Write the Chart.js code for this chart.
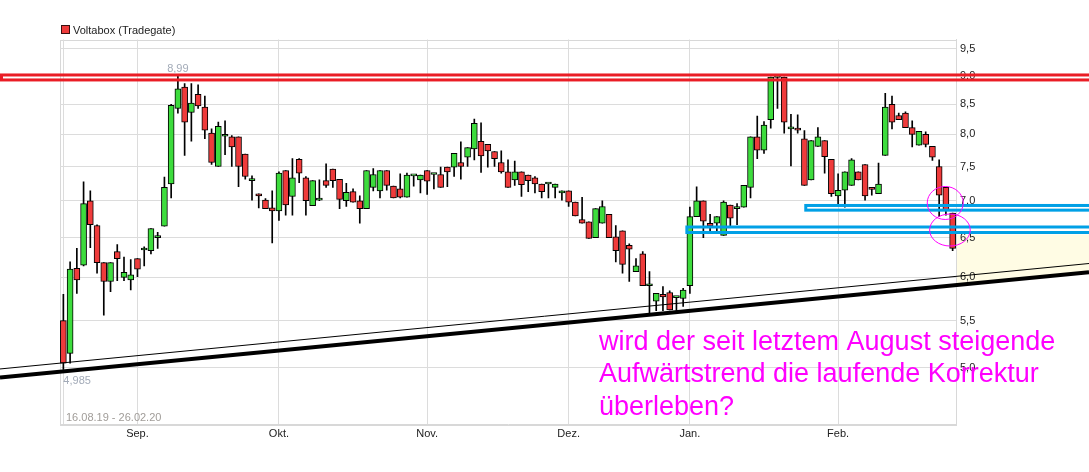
<!DOCTYPE html>
<html>
<head>
<meta charset="utf-8">
<script src="https://cdn.jsdelivr.net/npm/chart.js@4.4.1/dist/chart.umd.min.js"></script>
<style>
html,body{margin:0;padding:0;background:#fff;}
canvas{display:block;}
</style>
</head>
<body>
<canvas id="c" width="1089" height="472"></canvas>
<script>
// ---- data ----
const seriesName = 'Voltabox (Tradegate)';
const rangeLabel = '16.08.19 - 26.02.20';
const monthNames = ['Aug.','Sep.','Okt.','Nov.','Dez.','Jan.','Feb.'];
const monthKeys  = ['08.19','09.19','10.19','11.19','12.19','01.20','02.20'];
const tradingDays = [
  [16,19,20,21,22,23,26,27,28,29,30],
  [2,3,4,5,6,9,10,11,12,13,16,17,18,19,20,23,24,25,26,27,30],
  [1,2,4,7,8,9,10,11,14,15,16,17,18,21,22,23,24,25,28,29,30,31],
  [1,4,5,6,7,8,11,12,13,14,15,18,19,20,21,22,25,26,27,28,29],
  [2,3,4,5,6,9,10,11,12,13,16,17,18,19,20,23,27,30],
  [2,3,6,7,8,9,10,13,14,15,16,17,20,21,22,23,24,27,28,29,30,31],
  [3,4,5,6,7,10,11,12,13,14,17,18,19,20,21,24,25,26]
];
const openV = [5.50,5.15,6.11,6.15,7.00,6.66,6.18,5.95,6.32,6.00,5.97,6.23,6.34,6.33,6.50,6.65,7.24,8.43,8.80,8.36,
 8.67,8.45,8.02,7.50,7.97,7.96,7.96,7.69,7.29,7.10,7.01,6.90,6.86,7.44,7.06,7.61,7.33,6.93,7.01,7.29,
 7.46,7.31,7.00,7.13,7.00,6.89,7.19,7.14,7.44,7.21,7.17,7.05,7.36,7.30,7.44,7.38,7.38,7.49,7.49,7.56,
 7.64,7.77,7.89,7.84,7.73,7.56,7.42,7.30,7.42,7.37,7.33,7.24,7.24,7.19,7.11,7.14,6.98,6.74,6.71,6.50,
 6.69,6.81,6.51,6.59,6.40,6.07,6.29,5.90,5.72,5.80,5.82,5.76,5.75,5.90,6.78,7.00,6.69,6.69,6.53,6.94,
 6.89,6.91,7.19,7.96,7.75,8.24,8.97,8.98,8.09,8.09,7.93,7.30,7.81,7.90,7.61,7.07,7.15,7.22,7.42,7.53,
 7.19,7.10,7.67,8.50,8.31,8.35,8.11,7.83,8.00,7.81,7.50,7.19,6.83];
const highV = [5.80,6.19,6.36,7.27,7.14,6.67,6.18,6.18,6.41,6.25,6.22,6.23,6.38,6.62,6.57,7.34,8.50,8.99,8.86,8.86,
 8.84,8.64,8.09,8.20,8.22,7.98,7.96,7.69,7.36,7.10,7.03,7.14,7.42,7.44,7.62,7.62,7.35,7.29,7.30,7.54,
 7.46,7.31,7.25,7.17,7.07,7.44,7.47,7.44,7.44,7.21,7.39,7.40,7.36,7.37,7.44,7.38,7.49,7.49,7.70,7.88,
 7.79,8.25,8.19,7.84,7.73,7.74,7.60,7.58,7.42,7.37,7.35,7.24,7.24,7.24,7.14,7.14,6.98,7.05,6.71,6.89,
 7.00,6.81,6.66,6.59,6.42,6.23,6.32,6.07,5.81,5.89,5.84,5.76,5.87,6.91,7.20,7.00,6.81,6.78,7.00,6.94,
 6.96,7.22,7.96,8.30,8.21,8.98,8.98,8.98,8.33,8.32,8.06,7.90,8.11,7.90,7.61,7.39,7.42,7.62,7.42,7.53,
 7.19,7.55,8.69,8.64,8.35,8.37,8.22,8.05,8.04,7.81,7.60,7.19,6.83];
const lowV = [4.985,5.05,5.81,6.14,6.37,6.05,5.56,5.83,5.96,5.96,5.85,6.01,6.14,6.29,6.36,6.65,7.04,8.35,7.67,7.89,
 8.43,7.93,7.53,7.50,7.68,7.50,7.20,7.31,7.01,6.90,6.89,6.43,6.73,6.80,6.80,7.26,6.80,6.93,7.00,7.19,
 7.19,6.89,6.92,6.98,6.69,6.89,7.14,7.04,7.15,7.04,7.04,7.05,7.21,7.11,7.09,7.17,7.19,7.20,7.35,7.31,
 7.50,7.60,7.41,7.49,7.50,7.40,7.19,7.22,7.06,7.13,7.11,7.04,7.04,7.04,7.01,6.92,6.79,6.69,6.49,6.50,
 6.69,6.50,6.19,6.05,5.95,6.07,5.90,5.56,5.61,5.61,5.62,5.61,5.66,5.81,6.78,6.50,6.55,6.55,6.53,6.64,
 6.67,6.91,7.04,7.62,7.70,8.10,8.43,8.02,7.51,8.02,7.22,7.30,7.81,7.40,7.06,6.96,6.91,7.22,7.30,7.01,
 7.08,7.10,7.67,8.09,8.24,8.11,7.80,7.83,7.80,7.59,6.78,6.80,6.33];
const closeV = [5.05,6.10,5.97,6.96,6.67,6.18,5.95,6.18,6.23,6.06,6.03,6.10,6.34,6.62,6.50,7.19,8.48,8.77,8.20,8.52,
 8.47,8.07,7.56,8.13,7.97,7.80,7.50,7.35,7.29,7.07,6.89,6.86,7.40,6.94,7.33,7.40,7.00,7.29,7.01,7.22,
 7.29,7.02,7.12,6.98,6.89,7.44,7.38,7.44,7.22,7.04,7.05,7.37,7.36,7.37,7.28,7.38,7.19,7.42,7.70,7.50,
 7.79,8.18,7.66,7.74,7.62,7.42,7.19,7.42,7.23,7.29,7.24,7.13,7.24,7.24,7.14,6.98,6.79,6.69,6.49,6.89,
 6.92,6.50,6.33,6.16,6.35,6.14,5.90,5.90,5.81,5.77,5.62,5.76,5.85,6.78,7.00,6.72,6.65,6.78,6.98,6.76,
 6.89,7.22,7.96,7.75,8.15,8.98,8.97,8.20,8.09,8.07,7.22,7.90,7.96,7.65,7.10,7.15,7.42,7.60,7.30,7.07,
 7.16,7.24,8.45,8.20,8.24,8.11,8.00,8.05,7.84,7.64,7.08,6.87,6.36];
const yTicks = [5.0,5.5,6.0,6.5,7.0,7.5,8.0,8.5,9.0,9.5];
const yRange = [4.4627, 9.683];
// annotations (category index, price)
const redZone = [8.926, 9.016];
const blueZones = [ {fromIndex:110.2, lo:6.869, hi:6.934}, {fromIndex:92.55, lo:6.567, hi:6.640} ];
const yellowTop = 6.54;
const trendThick = [[-0.5, 4.963],[132.5, 5.907]];
const trendThin  = [[-0.5, 5.049],[132.5, 6.012]];
const circles = [ {index:130.9, price:6.969, rx:18, ry:16.5}, {index:131.6, price:6.60, rx:20.3, ry:16} ];
const noteLines = ['wird der seit letztem August steigende','Aufwärtstrend die laufende Korrektur','überleben?'];

// ---- build ----
const labels = [];
const monthStart = {};
tradingDays.forEach((days, m) => {
  days.forEach((d, k) => {
    if (k === 0) monthStart[labels.length] = monthNames[m];
    labels.push(String(d).padStart(2,'0') + '.' + monthKeys[m]);
  });
});
const bodies = openV.map((o,i) => [o, closeV[i]]);
const wicks = lowV.map((l,i) => [l, highV[i]]);
const bodyColors = openV.map((o,i) => closeV[i] >= o ? '#3ddc3d' : '#ef3b3b');
const FONT = "'Liberation Sans', Arial, sans-serif";

function trendPx(chart, seg) {
  const xs = chart.scales.x, ys = chart.scales.y;
  const x0 = xs.getPixelForValue(seg[0][0]), y0 = ys.getPixelForValue(seg[0][1]);
  const x1 = xs.getPixelForValue(seg[1][0]), y1 = ys.getPixelForValue(seg[1][1]);
  const k = (y1 - y0) / (x1 - x0);
  return xx => y0 + (xx - x0) * k;
}

const annot = {
  id: 'annot',
  beforeDraw(chart) {
    const ctx = chart.ctx, ca = chart.chartArea, ys = chart.scales.y;
    const W = chart.width;
    const f = trendPx(chart, trendThick);
    const top = ys.getPixelForValue(yellowTop);
    ctx.save();
    ctx.fillStyle = '#fffce4';
    ctx.beginPath();
    ctx.moveTo(ca.right, top);
    ctx.lineTo(W, top);
    ctx.lineTo(W, f(W));
    ctx.lineTo(ca.right, f(ca.right));
    ctx.closePath();
    ctx.fill();
    ctx.strokeStyle = '#d8d8d8';
    ctx.lineWidth = 1;
    ctx.strokeRect(Math.round(ca.left) + 0.5, Math.round(ca.top) + 0.5, Math.round(ca.right - ca.left), Math.round(ca.bottom - ca.top));
    ctx.restore();
  },
  afterDatasetsDraw(chart) {
    const ctx = chart.ctx, xs = chart.scales.x, ys = chart.scales.y;
    const W = chart.width;
    ctx.save();
    // trend lines
    const fT = trendPx(chart, trendThick);
    ctx.strokeStyle = '#000';
    ctx.lineWidth = 4;
    ctx.beginPath(); ctx.moveTo(0, fT(0)); ctx.lineTo(W, fT(W)); ctx.stroke();
    const ft = trendPx(chart, trendThin);
    ctx.lineWidth = 1;
    ctx.beginPath(); ctx.moveTo(0, ft(0)); ctx.lineTo(W, ft(W)); ctx.stroke();
    // red zone
    ctx.strokeStyle = '#ea1d25';
    ctx.lineWidth = 3;
    const rt = ys.getPixelForValue(redZone[1]), rb = ys.getPixelForValue(redZone[0]);
    ctx.strokeRect(1.5, rt, W + 10, rb - rt);
    // blue zones
    ctx.strokeStyle = '#00a0e6';
    blueZones.forEach(z => {
      const x = xs.getPixelForValue(z.fromIndex);
      const t = ys.getPixelForValue(z.hi), b = ys.getPixelForValue(z.lo);
      ctx.strokeRect(x, t, W + 10 - x, b - t);
    });
    // circles
    ctx.strokeStyle = '#ff00ff';
    ctx.lineWidth = 1;
    circles.forEach(c => {
      ctx.beginPath();
      ctx.ellipse(xs.getPixelForValue(c.index), ys.getPixelForValue(c.price), c.rx, c.ry, 0, 0, Math.PI * 2);
      ctx.stroke();
    });
    ctx.restore();
  },
  afterDraw(chart) {
    const ctx = chart.ctx, xs = chart.scales.x, ys = chart.scales.y, ca = chart.chartArea;
    ctx.save();
    // legend
    ctx.fillStyle = '#ef3b3b';
    ctx.fillRect(61.5, 25.5, 8, 8);
    ctx.strokeStyle = '#3a1010';
    ctx.lineWidth = 1;
    ctx.strokeRect(61.5, 25.5, 8, 8);
    ctx.fillStyle = '#222';
    ctx.font = '11px ' + FONT;
    ctx.textBaseline = 'alphabetic';
    ctx.textAlign = 'left';
    ctx.fillText(seriesName, 73, 33.5);
    // max / min labels
    let hi = 0, lo = 0;
    highV.forEach((v,i) => { if (v > highV[hi]) hi = i; });
    lowV.forEach((v,i) => { if (v < lowV[lo]) lo = i; });
    ctx.fillStyle = '#a3abb8';
    ctx.textAlign = 'center';
    ctx.fillText(String(highV[hi]).replace('.', ','), xs.getPixelForValue(hi), ys.getPixelForValue(highV[hi]) - 4.5);
    ctx.textAlign = 'left';
    ctx.textBaseline = 'top';
    ctx.fillText(String(lowV[lo]).replace('.', ','), xs.getPixelForValue(lo), ys.getPixelForValue(lowV[lo]) + 6);
    // range label
    ctx.fillStyle = '#a09c98';
    ctx.textBaseline = 'alphabetic';
    ctx.fillText(rangeLabel, ca.left + 6, ca.bottom - 3.5);
    // note
    ctx.fillStyle = '#ff00ff';
    ctx.font = '27px ' + FONT;
    noteLines.forEach((t, k) => ctx.fillText(t, 599, 349.5 + k * 32.5));
    ctx.restore();
  }
};

new Chart(document.getElementById('c'), {
  type: 'bar',
  data: {
    labels: labels,
    datasets: [
      { label: seriesName, data: bodies, backgroundColor: bodyColors, borderColor: '#000', borderWidth: 1,
        borderSkipped: false, barThickness: 6, minBarLength: 2, grouped: false, order: 0 },
      { label: 'wick', data: wicks, backgroundColor: '#000', borderWidth: 0, barThickness: 1,
        grouped: false, order: 1 }
    ]
  },
  options: {
    responsive: false,
    devicePixelRatio: 1,
    animation: false,
    layout: { padding: { left: 60, top: 39.5, right: 0, bottom: 0 } },
    plugins: { legend: { display: false }, tooltip: { enabled: false } },
    scales: {
      x: {
        type: 'category',
        offset: true,
        grid: { offset: false, drawTicks: false, lineWidth: 1,
          color: c => (c.index === 0 || monthStart[c.index]) ? '#dcdcdc' : 'rgba(0,0,0,0)' },
        border: { display: true, color: '#d8d8d8' },
        ticks: { autoSkip: false, maxRotation: 0, minRotation: 0, padding: 3,
          font: { family: FONT, size: 11 }, color: '#222',
          callback: (v, i) => (i > 0 && monthStart[i]) ? monthStart[i] : '' },
        afterFit: s => { s.height = 47.5; }
      },
      y: {
        type: 'logarithmic',
        position: 'right',
        min: yRange[0], max: yRange[1],
        bounds: 'data',
        afterBuildTicks: s => { s.ticks = yTicks.map(v => ({ value: v })); },
        afterFit: s => { s.width = 133; },
        grid: { color: '#dcdcdc', drawTicks: false, lineWidth: 1 },
        border: { display: true, color: '#d8d8d8' },
        ticks: { padding: 4, font: { family: FONT, size: 11 }, color: '#222', autoSkip: false,
          callback: v => Number(v).toFixed(1).replace('.', ',') }
      }
    }
  },
  plugins: [annot]
});
</script>
</body>
</html>
